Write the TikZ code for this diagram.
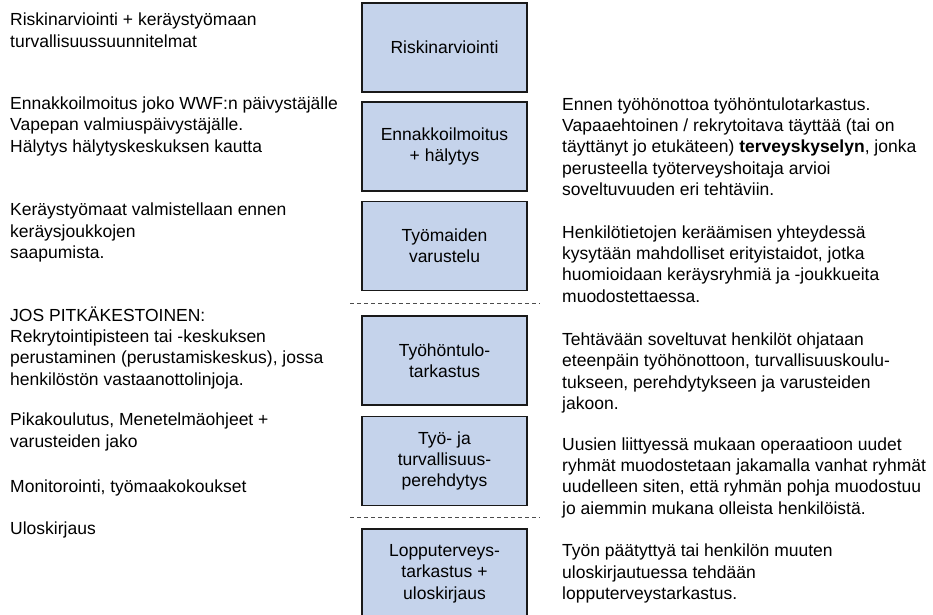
\documentclass[tikz,border=0pt]{standalone}
\usepackage{fontspec}
\setmainfont{Liberation Sans}
\definecolor{stageblue}{RGB}{197,211,235}
\tikzset{
  stage/.style={draw=black!90, line width=1.4pt, fill=stageblue,
    minimum width=165pt, minimum height=89pt, align=center, inner sep=0pt},
  note/.style={anchor=base west, align=left, inner sep=0pt},
  phaseline/.style={draw=black!70, line width=0.7pt, dash pattern=on 4pt off 3pt}
}
\begin{document}
\begin{tikzpicture}[x=1pt, y=-1pt, font=\fontsize{17.5}{21.3}\selectfont]
    \clip (0,0) rectangle (933,614);
    % stages in the middle column
    \node[stage] (risk) at (444.5,47.5) {Riskinarviointi};
    \node[stage] (alert) at (444.5,146.5) {Ennakkoilmoitus\\+ hälytys};
    \node[stage] (sites) at (444.5,246) {Työmaiden\\varustelu};
    \node[stage] (intake) at (444.5,360.5) {Työhöntulo-\\tarkastus};
    \node[stage] (induct) at (444.5,461) {Työ- ja\\turvallisuus-\\perehdytys};
    \node[stage] (final) at (444.5,573.5) {Lopputerveys-\\tarkastus +\\uloskirjaus};
    % phase separators
    \draw[phaseline] (350,303) -- (540,303);
    \draw[phaseline] (350,517) -- (540,517);
    % left notes (anchored at the last line)
    \node[note] (riskL) at (10,47) {Riskinarviointi + keräystyömaan\\turvallisuussuunnitelmat};
    \node[note] (alertL) at (10,152) {Ennakkoilmoitus joko WWF:n päivystäjälle\\Vapepan valmiuspäivystäjälle.\\Hälytys hälytyskeskuksen kautta};
    \node[note] (sitesL) at (10,258.5) {Keräystyömaat valmistellaan ennen\\keräysjoukkojen\\saapumista.};
    \node[note] (longL) at (10,385) {JOS PITKÄKESTOINEN:\\Rekrytointipisteen tai -keskuksen\\perustaminen (perustamiskeskus), jossa\\henkilöstön vastaanottolinjoja.};
    \node[note] (trainL) at (10,447) {Pikakoulutus, Menetelmäohjeet +\\varusteiden jako};
    \node[note] (monL) at (10,492) {Monitorointi, työmaakokoukset};
    \node[note] (outL) at (10,534.5) {Uloskirjaus};
    % right notes
    \node[note] (intakeR) at (562,195.5) {Ennen työhönottoa työhöntulotarkastus.\\Vapaaehtoinen / rekrytoitava täyttää (tai on\\täyttänyt jo etukäteen) \textbf{terveyskyselyn}, jonka\\perusteella työterveyshoitaja arvioi\\soveltuvuuden eri tehtäviin.};
    \node[note] (skillsR) at (562,302) {Henkilötietojen keräämisen yhteydessä\\kysytään mahdolliset erityistaidot, jotka\\huomioidaan keräysryhmiä ja -joukkueita\\muodostettaessa.};
    \node[note] (fitR) at (562,409.5) {Tehtävään soveltuvat henkilöt ohjataan\\eteenpäin työhönottoon, turvallisuuskoulu-\\tukseen, perehdytykseen ja varusteiden\\jakoon.};
    \node[note] (groupsR) at (562,514) {Uusien liittyessä mukaan operaatioon uudet\\ryhmät muodostetaan jakamalla vanhat ryhmät\\uudelleen siten, että ryhmän pohja muodostuu\\jo aiemmin mukana olleista henkilöistä.};
    \node[note] (endR) at (562,599.5) {Työn päätyttyä tai henkilön muuten\\uloskirjautuessa tehdään\\lopputerveystarkastus.};
\end{tikzpicture}
\end{document}
